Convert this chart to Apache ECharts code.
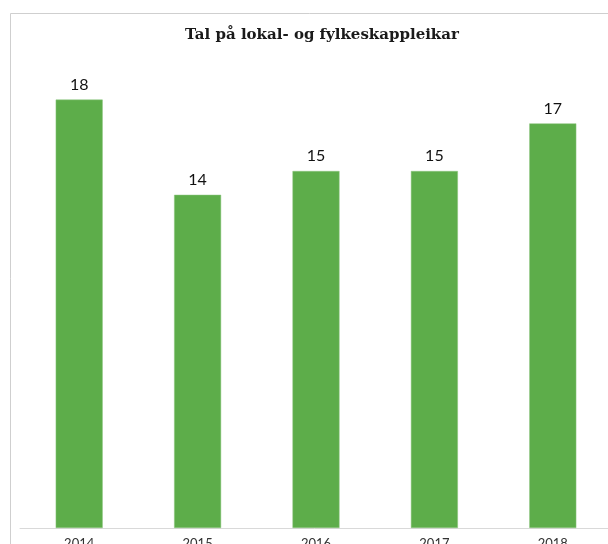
<!DOCTYPE html>
<html>
<head>
<meta charset="utf-8">
<script src="https://cdn.jsdelivr.net/npm/echarts@6/dist/echarts.min.js"></script>
<style>
  html, body { margin: 0; padding: 0; background: #fff; }
  #chart { width: 608px; height: 544px; }
</style>
</head>
<body>
<div id="chart"></div>
<script>
const years = ["2014", "2015", "2016", "2017", "2018"];
const counts = [18, 14, 15, 15, 17];

const myChart = echarts.init(document.getElementById("chart"));

const option = {
  animation: false,
  title: {
    text: "Tal på lokal- og fylkeskappleikar",
    left: 317,
    top: 23,
    textAlign: "center",
    textStyle: {
      fontFamily: "DejaVu Serif",
      fontWeight: "bold",
      fontSize: 15,
      color: "#1a1a1a",
    },
  },
  graphic: [
    {
      type: "polyline",
      shape: { points: [[10.5, 544], [10.5, 13.5], [608, 13.5]] },
      style: { stroke: "#cfcfcf", lineWidth: 1, fill: null },
    },
  ],
  grid: {
    left: 20,
    right: -4,
    top: 52,
    bottom: 16,
    containLabel: false,
    outerBoundsMode: "none",
  },
  xAxis: {
    type: "category",
    data: years,
    axisLine: { lineStyle: { color: "#d9d9d9", width: 1 } },
    axisTick: { show: false },
    axisLabel: {
      color: "#333",
      fontFamily: "Lato",
      fontSize: 13,
      margin: 9,
    },
  },
  yAxis: {
    type: "value",
    min: 0,
    max: 20,
    show: false,
    splitLine: { show: false },
  },
  series: [
    {
      type: "bar",
      data: counts,
      barWidth: 47,
      itemStyle: { color: "#5DAD4A", borderColor: "#8cc57e", borderWidth: 0.5 },
      label: {
        show: true,
        position: "top",
        distance: 7,
        color: "#111",
        fontFamily: "Lato",
        fontSize: 16,
      },
    },
  ],
};
myChart.setOption(option);
</script>
</body>
</html>
